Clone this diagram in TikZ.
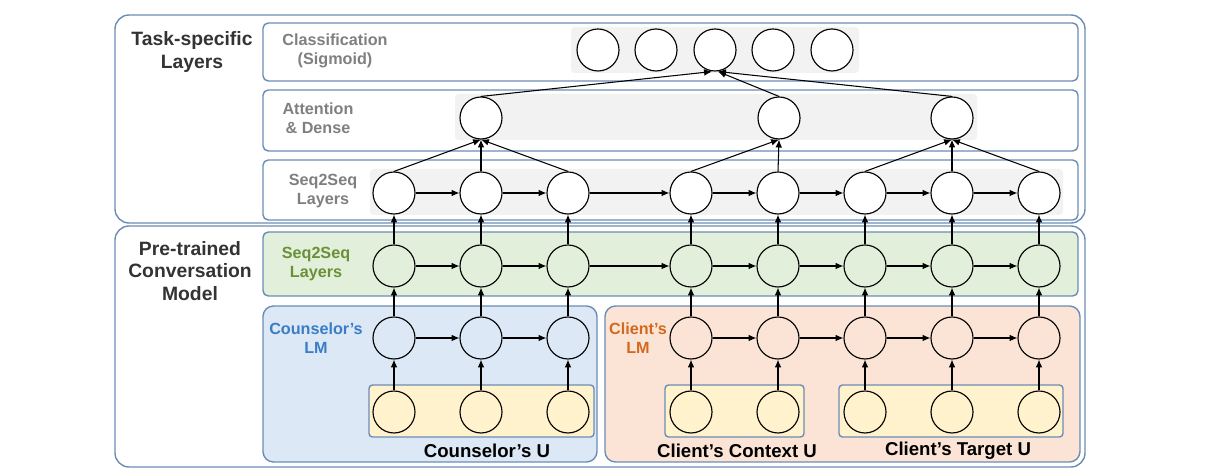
\documentclass[tikz,border=0pt]{standalone}
\usepackage{fontspec}
\setmainfont{Liberation Sans}
\usetikzlibrary{arrows.meta}
\definecolor{bordc}{HTML}{6B8DB5}
\definecolor{grayfill}{HTML}{F2F2F2}
\definecolor{greenfill}{HTML}{E2EFDA}
\definecolor{bluefill}{HTML}{DCE8F5}
\definecolor{orangefill}{HTML}{FBE4D6}
\definecolor{yellowfill}{HTML}{FFF2CC}
\definecolor{graytext}{HTML}{7F7F7F}
\definecolor{greentext}{HTML}{6A9038}
\definecolor{bluetext}{HTML}{3A7CC6}
\definecolor{orangetext}{HTML}{D2691E}
\definecolor{darktext}{HTML}{333333}
\begin{document}
\begin{tikzpicture}[x=0.02cm,y=-0.02cm,
  outerbox/.style={draw=bordc,line width=0.8pt,rounded corners=8pt},
  panel/.style={draw=bordc,line width=0.8pt,rounded corners=3pt},
  bandfill/.style={fill=grayfill,draw=none},
  cell/.style={circle,draw=black,line width=0.65pt,minimum size=0.84cm,inner sep=0pt},
  arr/.style={-{Latex[length=4.5pt,width=3.8pt]},line width=0.6pt,black},
  graylab/.style={align=center,text=graytext,font=\bfseries\fontsize{9.2}{11}\selectfont},
  headlab/.style={align=center,text=darktext,font=\bfseries\fontsize{11}{13}\selectfont},
  bottomlab/.style={text=black,font=\bfseries\fontsize{10.6}{12}\selectfont},
]
\useasboundingbox (0,0) rectangle (1217,475);

% outer boxes
\draw[outerbox] (115,15) rectangle (1085,223);
\draw[outerbox] (115,226) rectangle (1085,467);

% task-specific panels
\draw[panel] (263,23) rectangle (1078,81);
\draw[panel] (263,90) rectangle (1078,151);
\draw[panel] (263,160) rectangle (1078,220);
\fill[bandfill,rounded corners=2pt] (571,27) rectangle (859,73);
\fill[bandfill,rounded corners=2pt] (455,94) rectangle (977,140);
\fill[bandfill,rounded corners=2pt] (370,169) rectangle (1063,215);

% pre-trained panels
\draw[panel,fill=greenfill] (263,232) rectangle (1078,296);
\draw[panel,fill=bluefill,rounded corners=6pt] (263,306) rectangle (597,462);
\draw[panel,fill=orangefill,rounded corners=6pt] (605,306) rectangle (1080,462);
\draw[panel,fill=yellowfill,rounded corners=2pt] (369,385) rectangle (594,437);
\draw[panel,fill=yellowfill,rounded corners=2pt] (665,385) rectangle (804,437);
\draw[panel,fill=yellowfill,rounded corners=2pt] (839,385) rectangle (1063,437);

% labels
\node[headlab] (lbTask) at (192,52) {Task-specific\\Layers};
\node[headlab] (lbPre) at (190,271) {Pre-trained\\Conversation\\Model};
\node[graylab] (lbClass) at (335,51) {Classification\\(Sigmoid)};
\node[graylab] (lbAtt) at (318,118) {Attention\\\& Dense};
\node[graylab] (lbSeqT) at (323,191) {Seq2Seq\\Layers};
\node[graylab,text=greentext] (lbSeqG) at (316,264) {Seq2Seq\\Layers};
\node[graylab,text=bluetext] (lbCLM) at (316,338) {Counselor’s\\LM};
\node[graylab,text=orangetext] (lbClLM) at (638,338) {Client’s\\LM};
\node[bottomlab] (lbCU) at (487,451) {Counselor’s U};
\node[bottomlab] (lbCCU) at (737,451) {Client’s Context U};
\node[bottomlab] (lbCTU) at (958,451) {Client’s Target U};

% classification circles
\foreach \i/\x in {1/598,2/656,3/715,4/773,5/832}
  \node[cell,fill=white] (c\i) at (\x,50) {};
% attention
\foreach \i/\x in {1/481,2/779,3/952}
  \node[cell,fill=white] (a\i) at (\x,118) {};
% columns
\foreach \i/\x in {1/394,2/481,3/568,4/691,5/778,6/865,7/952,8/1039}{
  \node[cell,fill=white] (t\i) at (\x,193) {};
  \node[cell,fill=greenfill] (g\i) at (\x,266) {};
  \node[cell,fill=yellowfill] (u\i) at (\x,412) {};
}
\foreach \i/\x in {1/394,2/481,3/568}
  \node[cell,fill=bluefill] (l\i) at (\x,338) {};
\foreach \i/\x in {4/691,5/778,6/865,7/952,8/1039}
  \node[cell,fill=orangefill] (l\i) at (\x,338) {};

% vertical arrows
\foreach \i in {1,...,8}{
  \draw[arr] (u\i) -- (l\i);
  \draw[arr] (l\i) -- (g\i);
  \draw[arr] (g\i) -- (t\i);
}
% horizontal arrows
\foreach \i/\j in {1/2,2/3,3/4,4/5,5/6,6/7,7/8}{
  \draw[arr] (t\i) -- (t\j);
  \draw[arr] (g\i) -- (g\j);
}
\foreach \i/\j in {1/2,2/3,4/5,5/6,6/7,7/8}
  \draw[arr] (l\i) -- (l\j);

% seq2seq -> attention
\draw[arr] (t1.north) -- (a1.south);
\draw[arr] (t2.north) -- (a1.south);
\draw[arr] (t3.north) -- (a1.south);
\draw[arr] (t4.north) -- (a2.south);
\draw[arr] (t5.north) -- (a2.south);
\draw[arr] (t6.north) -- (a3.south);
\draw[arr] (t7.north) -- (a3.south);
\draw[arr] (t8.north) -- (a3.south);
% attention -> classification
\draw[arr] (a1.north) -- ([xshift=-0.06cm]c3.south);
\draw[arr] (a2.north) -- ([xshift=0.06cm]c3.south);
\draw[arr] (a3.north) -- ([xshift=0.06cm]c3.south);
\end{tikzpicture}
\end{document}
